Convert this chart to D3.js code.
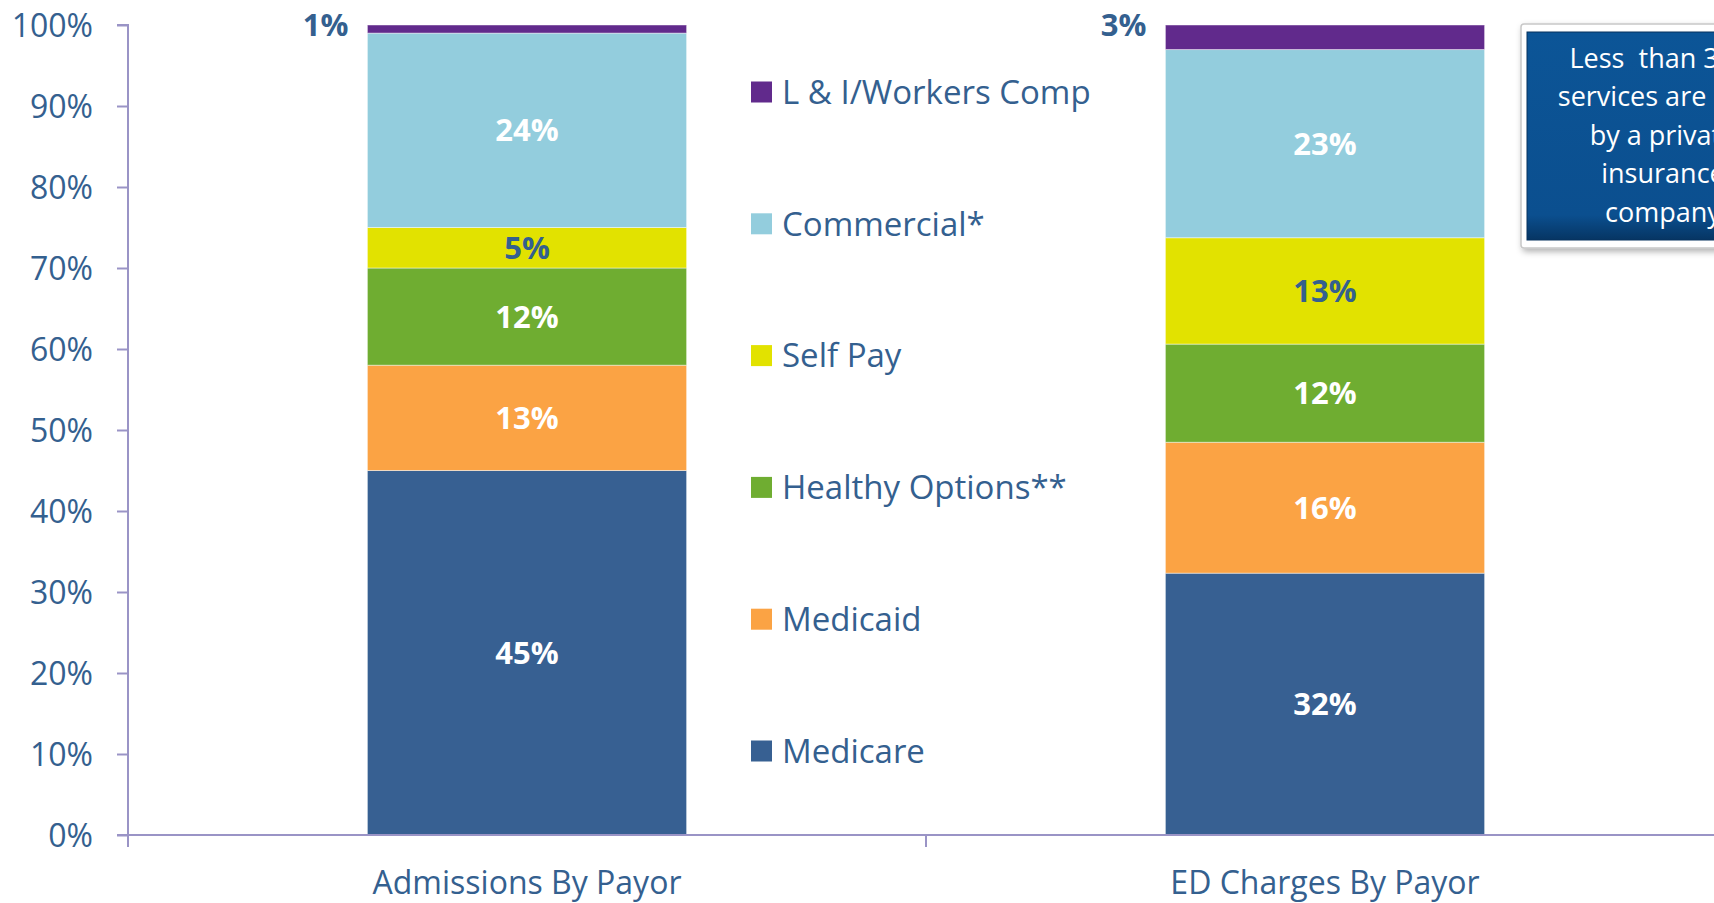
<!DOCTYPE html>
<html>
<head>
<meta charset="utf-8">
<script src="https://cdn.jsdelivr.net/npm/d3@7/dist/d3.min.js"></script>
<style>
  html, body { margin: 0; padding: 0; background: #ffffff; overflow: hidden; }
  svg { display: block; font-family: "Open Sans", "Noto Sans", sans-serif; }
</style>
</head>
<body>
<svg id="chart" width="1714" height="903"></svg>
<script>
// Payor mix for hospital admissions and ED charges (percent of total)
const categories = ["Admissions By Payor", "ED Charges By Payor"];
const payors = ["Medicare", "Medicaid", "Healthy Options**", "Self Pay", "Commercial*", "L & I/Workers Comp"];
const medicare       = [45, 32];
const medicaid       = [13, 16];
const healthyOptions = [12, 12];
const selfPay        = [5, 13];
const commercial     = [24, 23];
const workersComp    = [1, 3];
const yTicks = [0, 0.1, 0.2, 0.3, 0.4, 0.5, 0.6, 0.7, 0.8, 0.9, 1.0];
const calloutLines = ["Less  than 30%", "services are paid", "by a private", "insurance", "company"];

const colors = {
  "Medicare": "#376092",
  "Medicaid": "#FBA344",
  "Healthy Options**": "#6FAD31",
  "Self Pay": "#E2E200",
  "Commercial*": "#93CDDD",
  "L & I/Workers Comp": "#612A8C"
};
const darkBlueText = "#34608F";
const axisColor = "#9A94C6";

const seriesValues = [medicare, medicaid, healthyOptions, selfPay, commercial, workersComp];
const rows = categories.map((c, i) => {
  const r = { category: c };
  payors.forEach((p, k) => { r[p] = seriesValues[k][i]; });
  return r;
});

const svg = d3.select("#chart");
const x0 = 128, xEnd = 1724, yTop = 25, yBottom = 835;

const x = d3.scaleBand().domain(categories).range([x0, xEnd]).paddingInner(0.6).paddingOuter(0.3);
const y = d3.scaleLinear().domain([0, 1]).range([yBottom, yTop]);

// 100% stacked layout
const stacked = d3.stack().keys(payors).offset(d3.stackOffsetExpand)(rows);

// Bars
const layers = svg.append("g").selectAll("g").data(stacked).join("g")
  .attr("fill", d => colors[d.key]);
layers.selectAll("rect").data(d => d.map(s => Object.assign(s, { key: d.key })))
  .join("rect")
  .attr("x", d => x(d.data.category))
  .attr("width", x.bandwidth())
  .attr("y", d => y(d[1]))
  .attr("height", d => y(d[0]) - y(d[1]))
  .attr("stroke", "rgba(255,255,255,0.45)")
  .attr("stroke-width", 1);

// Y axis
const yAxis = d3.axisLeft(y).tickValues(yTicks).tickFormat(d3.format(".0%")).tickSize(11).tickPadding(24);
const gy = svg.append("g").attr("transform", `translate(${x0},0)`).call(yAxis);
gy.select(".domain").attr("stroke", axisColor).attr("stroke-width", 2)
  .attr("d", `M-11,${yTop}H0V${yBottom}`);
gy.selectAll(".tick line").attr("stroke", axisColor).attr("stroke-width", 2);
gy.selectAll(".tick text").attr("fill", darkBlueText).attr("font-size", 32)
  .attr("font-family", "Open Sans").attr("dy", "0.36em");

// X axis baseline and category separators
const gx = svg.append("g");
gx.append("line").attr("x1", x0 - 11).attr("x2", 1714).attr("y1", yBottom).attr("y2", yBottom)
  .attr("stroke", axisColor).attr("stroke-width", 2);
const step = x.step();
[0, 1].forEach(i => {
  const tx = x0 + i * step;
  gx.append("line").attr("x1", tx).attr("x2", tx).attr("y1", yBottom).attr("y2", yBottom + 12)
    .attr("stroke", axisColor).attr("stroke-width", 2);
});
gx.selectAll("text.cat").data(categories).join("text")
  .attr("class", "cat")
  .attr("x", d => x(d) + x.bandwidth() / 2)
  .attr("y", 882)
  .attr("dy", "0.36em")
  .attr("text-anchor", "middle")
  .attr("fill", darkBlueText)
  .attr("font-size", 32)
  .text(d => d);

// Value labels inside segments
const fmt = v => v + "%";
layers.each(function(layer) {
  const g = d3.select(this);
  g.selectAll("text").data(layer).join("text")
    .attr("x", d => layer.key === "L & I/Workers Comp" ? x(d.data.category) - 19 : x(d.data.category) + x.bandwidth() / 2)
    .attr("y", d => layer.key === "L & I/Workers Comp" ? y(1) : y((d[0] + d[1]) / 2))
    .attr("dy", "0.36em")
    .attr("text-anchor", layer.key === "L & I/Workers Comp" ? "end" : "middle")
    .attr("font-size", 31)
    .attr("font-weight", "bold")
    .attr("fill", layer.key === "Self Pay" || layer.key === "L & I/Workers Comp" ? darkBlueText : "#ffffff")
    .text(d => fmt(d.data[layer.key]));
});

// Legend (top to bottom in reverse stack order)
const legendOrder = payors.slice().reverse();
const legendY = d3.scalePoint().domain(legendOrder).range([92, 751]);
const lg = svg.append("g");
const items = lg.selectAll("g").data(legendOrder).join("g")
  .attr("transform", d => `translate(751,${legendY(d)})`);
items.append("rect").attr("x", 0).attr("y", -10.5).attr("width", 21).attr("height", 21)
  .attr("fill", d => colors[d]);
items.append("text").attr("x", 31).attr("y", 0).attr("dy", "0.36em")
  .attr("fill", darkBlueText).attr("font-size", 33).text(d => d);

// Callout box
const defs = svg.append("defs");
const grad = defs.append("linearGradient").attr("id", "boxFill").attr("x1", 0).attr("y1", 0).attr("x2", 0).attr("y2", 1);
grad.append("stop").attr("offset", "0%").attr("stop-color", "#0C5597");
grad.append("stop").attr("offset", "88%").attr("stop-color", "#0B4F8F");
grad.append("stop").attr("offset", "100%").attr("stop-color", "#063563");
const shadow = defs.append("filter").attr("id", "shadow").attr("x", "-10%").attr("y", "-10%").attr("width", "130%").attr("height", "130%");
shadow.append("feDropShadow").attr("dx", 2).attr("dy", 3).attr("stdDeviation", 3).attr("flood-color", "#000").attr("flood-opacity", 0.3);

const box = svg.append("g");
box.append("rect").attr("x", 1521).attr("y", 24).attr("width", 282).attr("height", 224).attr("rx", 3)
  .attr("fill", "#ffffff").attr("stroke", "#C8C8C8").attr("stroke-width", 1.5).attr("filter", "url(#shadow)");
box.append("rect").attr("x", 1527).attr("y", 32).attr("width", 270).attr("height", 208)
  .attr("fill", "url(#boxFill)").attr("stroke", "#06335F").attr("stroke-width", 1);
box.selectAll("text").data(calloutLines).join("text")
  .attr("x", 1663)
  .attr("y", (d, i) => 58 + i * 38.5)
  .attr("dy", "0.36em")
  .attr("text-anchor", "middle")
  .attr("fill", "#ffffff")
  .attr("font-size", 27)
  .style("white-space", "pre")
  .text(d => d);
</script>
</body>
</html>
